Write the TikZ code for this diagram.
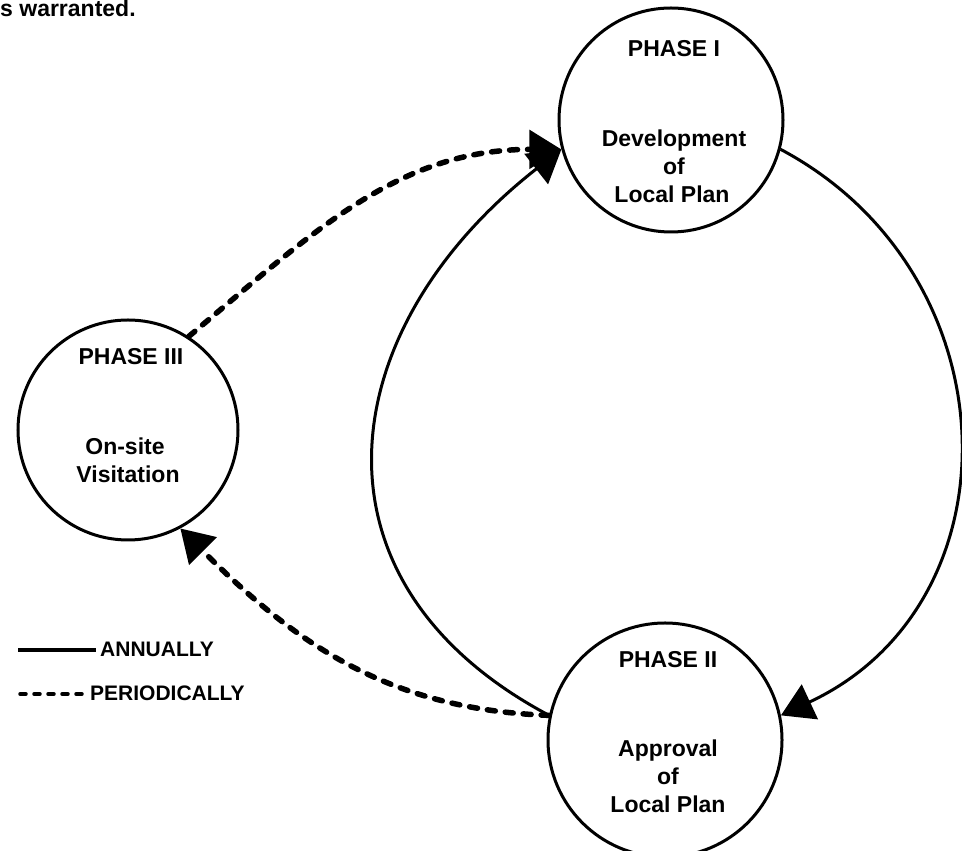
\documentclass[tikz,border=0pt]{standalone}
\usepackage{fontspec}
\setmainfont{Liberation Sans}
\usetikzlibrary{arrows.meta}
\begin{document}
\begin{tikzpicture}[x=1pt,y=1pt,
  phase/.style={circle,draw,line width=3pt,minimum size=#1,inner sep=0pt},
  lbl/.style={font=\bfseries\fontsize{23}{28}\selectfont,inner sep=0pt,anchor=base},
  leg/.style={font=\bfseries\fontsize{21}{25}\selectfont,inner sep=0pt,anchor=base west},
  annual/.style={line width=3pt},
  periodic/.style={line width=5.5pt,dash pattern=on 8pt off 10pt,line cap=round},
  tip/.style={-{Triangle[length=32pt,width=38pt]}}
]
\useasboundingbox (0,0) rectangle (962,851);
% top text line
\node[anchor=base west,inner sep=0pt,font=\bfseries\fontsize{23}{28}\selectfont] (top) at (0,834) {s warranted.};
% phase circles
\node[phase=224pt] (p1) at (671,731) {};
\node[phase=220pt] (p3) at (128,421) {};
\node[phase=234pt] (p2) at (665,111) {};
% labels phase I
\node[lbl] (t1a) at (674,794) {PHASE I};
\node[lbl] (t1b) at (674,704) {Development};
\node[lbl] (t1c) at (674,676) {of};
\node[lbl] (t1d) at (672,648) {Local Plan};
% labels phase II
\node[lbl] (t2a) at (668,183) {PHASE II};
\node[lbl] (t2b) at (668,94) {Approval};
\node[lbl] (t2c) at (668,66) {of};
\node[lbl] (t2d) at (668,38) {Local Plan};
% labels phase III
\node[lbl] (t3a) at (131,486) {PHASE III};
\node[lbl] (t3b) at (125,396) {On-site};
\node[lbl] (t3c) at (128,368) {Visitation};
% annual cycle
\draw[annual,tip] (p1.-15) to[out=-28,in=25,looseness=1.2] (p2.12);
\draw[annual,tip] (p2.168) to[out=152,in=-142,looseness=1.3] (p1.195);
% periodic
\draw[periodic,tip] (p3.57) to[out=40,in=180] (p1.195);
\draw[periodic,tip] (p2.168) to[out=178,in=-45] (p3.-62);
% legend
\coordinate (la) at (18,201);
\coordinate (lb) at (96,201);
\draw[line width=3.5pt] (la) -- (lb);
\node[leg] (ann) at (100,194) {ANNUALLY};
\coordinate (lc) at (20,157);
\coordinate (ld) at (86,157);
\draw[line width=3.5pt,dash pattern=on 6pt off 8pt,line cap=round] (lc) -- (ld);
\node[leg] (per) at (90,150) {PERIODICALLY};
\end{tikzpicture}
\end{document}
